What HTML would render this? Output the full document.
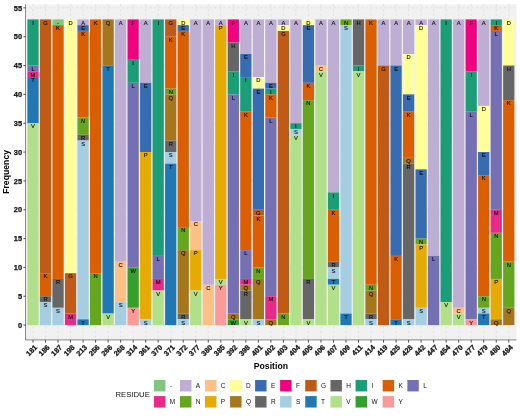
<!DOCTYPE html>
<html><head><meta charset="utf-8"><title>Residue frequency by position</title>
<style>html,body{margin:0;padding:0;background:#fff;}svg{display:block;will-change:transform;}text{font-family:"Liberation Sans",sans-serif;}</style>
</head><body>
<svg width="520" height="416" viewBox="0 0 520 416">
<rect x="0" y="0" width="520" height="416" fill="#ffffff"/>
<rect x="25.5" y="4.4" width="490.9" height="335.5" fill="#f1f1f1"/>
<g stroke="#dbdbdb" stroke-width="0.7" stroke-dasharray="2.2,2.4" fill="none">
<line x1="25.5" x2="516.4" y1="325.10" y2="325.10"/>
<line x1="25.5" x2="516.4" y1="296.26" y2="296.26"/>
<line x1="25.5" x2="516.4" y1="267.42" y2="267.42"/>
<line x1="25.5" x2="516.4" y1="238.58" y2="238.58"/>
<line x1="25.5" x2="516.4" y1="209.74" y2="209.74"/>
<line x1="25.5" x2="516.4" y1="180.90" y2="180.90"/>
<line x1="25.5" x2="516.4" y1="152.06" y2="152.06"/>
<line x1="25.5" x2="516.4" y1="123.22" y2="123.22"/>
<line x1="25.5" x2="516.4" y1="94.38" y2="94.38"/>
<line x1="25.5" x2="516.4" y1="65.54" y2="65.54"/>
<line x1="25.5" x2="516.4" y1="36.70" y2="36.70"/>
<line x1="25.5" x2="516.4" y1="7.86" y2="7.86"/>
<line x1="33.00" x2="33.00" y1="4.4" y2="339.9"/>
<line x1="45.52" x2="45.52" y1="4.4" y2="339.9"/>
<line x1="58.04" x2="58.04" y1="4.4" y2="339.9"/>
<line x1="70.56" x2="70.56" y1="4.4" y2="339.9"/>
<line x1="83.08" x2="83.08" y1="4.4" y2="339.9"/>
<line x1="95.60" x2="95.60" y1="4.4" y2="339.9"/>
<line x1="108.12" x2="108.12" y1="4.4" y2="339.9"/>
<line x1="120.64" x2="120.64" y1="4.4" y2="339.9"/>
<line x1="133.16" x2="133.16" y1="4.4" y2="339.9"/>
<line x1="145.68" x2="145.68" y1="4.4" y2="339.9"/>
<line x1="158.20" x2="158.20" y1="4.4" y2="339.9"/>
<line x1="170.72" x2="170.72" y1="4.4" y2="339.9"/>
<line x1="183.24" x2="183.24" y1="4.4" y2="339.9"/>
<line x1="195.76" x2="195.76" y1="4.4" y2="339.9"/>
<line x1="208.28" x2="208.28" y1="4.4" y2="339.9"/>
<line x1="220.80" x2="220.80" y1="4.4" y2="339.9"/>
<line x1="233.32" x2="233.32" y1="4.4" y2="339.9"/>
<line x1="245.84" x2="245.84" y1="4.4" y2="339.9"/>
<line x1="258.36" x2="258.36" y1="4.4" y2="339.9"/>
<line x1="270.88" x2="270.88" y1="4.4" y2="339.9"/>
<line x1="283.40" x2="283.40" y1="4.4" y2="339.9"/>
<line x1="295.92" x2="295.92" y1="4.4" y2="339.9"/>
<line x1="308.44" x2="308.44" y1="4.4" y2="339.9"/>
<line x1="320.96" x2="320.96" y1="4.4" y2="339.9"/>
<line x1="333.48" x2="333.48" y1="4.4" y2="339.9"/>
<line x1="346.00" x2="346.00" y1="4.4" y2="339.9"/>
<line x1="358.52" x2="358.52" y1="4.4" y2="339.9"/>
<line x1="371.04" x2="371.04" y1="4.4" y2="339.9"/>
<line x1="383.56" x2="383.56" y1="4.4" y2="339.9"/>
<line x1="396.08" x2="396.08" y1="4.4" y2="339.9"/>
<line x1="408.60" x2="408.60" y1="4.4" y2="339.9"/>
<line x1="421.12" x2="421.12" y1="4.4" y2="339.9"/>
<line x1="433.64" x2="433.64" y1="4.4" y2="339.9"/>
<line x1="446.16" x2="446.16" y1="4.4" y2="339.9"/>
<line x1="458.68" x2="458.68" y1="4.4" y2="339.9"/>
<line x1="471.20" x2="471.20" y1="4.4" y2="339.9"/>
<line x1="483.72" x2="483.72" y1="4.4" y2="339.9"/>
<line x1="496.24" x2="496.24" y1="4.4" y2="339.9"/>
<line x1="508.76" x2="508.76" y1="4.4" y2="339.9"/>
</g>
<g shape-rendering="auto">
<rect x="27.37" y="19.40" width="11.27" height="46.14" fill="#1b9e77"/>
<rect x="27.37" y="65.54" width="11.27" height="5.77" fill="#7570b3"/>
<rect x="27.37" y="71.31" width="11.27" height="5.77" fill="#e7298a"/>
<rect x="27.37" y="77.08" width="11.27" height="46.14" fill="#1f78b4"/>
<rect x="27.37" y="123.22" width="11.27" height="201.88" fill="#b2df8a"/>
<rect x="39.88" y="19.40" width="11.27" height="253.79" fill="#bf5b17"/>
<rect x="39.88" y="273.19" width="11.27" height="23.07" fill="#d95f02"/>
<rect x="39.88" y="296.26" width="11.27" height="5.77" fill="#666666"/>
<rect x="39.88" y="302.03" width="11.27" height="23.07" fill="#a6cee3"/>
<rect x="52.41" y="19.40" width="11.27" height="5.77" fill="#7fc97f"/>
<rect x="52.41" y="25.16" width="11.27" height="253.79" fill="#d95f02"/>
<rect x="52.41" y="278.96" width="11.27" height="28.84" fill="#666666"/>
<rect x="52.41" y="307.80" width="11.27" height="17.30" fill="#a6cee3"/>
<rect x="64.92" y="19.40" width="11.27" height="253.79" fill="#ffff99"/>
<rect x="64.92" y="273.19" width="11.27" height="40.38" fill="#bf5b17"/>
<rect x="64.92" y="313.56" width="11.27" height="11.54" fill="#e7298a"/>
<rect x="77.44" y="19.40" width="11.27" height="5.77" fill="#beaed4"/>
<rect x="77.44" y="25.16" width="11.27" height="5.77" fill="#386cb0"/>
<rect x="77.44" y="30.93" width="11.27" height="86.52" fill="#d95f02"/>
<rect x="77.44" y="117.45" width="11.27" height="17.30" fill="#66a61e"/>
<rect x="77.44" y="134.76" width="11.27" height="5.77" fill="#666666"/>
<rect x="77.44" y="140.52" width="11.27" height="178.81" fill="#a6cee3"/>
<rect x="77.44" y="319.33" width="11.27" height="5.77" fill="#1f78b4"/>
<rect x="89.96" y="19.40" width="11.27" height="253.79" fill="#d95f02"/>
<rect x="89.96" y="273.19" width="11.27" height="51.91" fill="#66a61e"/>
<rect x="102.48" y="19.40" width="11.27" height="46.14" fill="#a6761d"/>
<rect x="102.48" y="65.54" width="11.27" height="248.02" fill="#1f78b4"/>
<rect x="102.48" y="313.56" width="11.27" height="11.54" fill="#b2df8a"/>
<rect x="115.00" y="19.40" width="11.27" height="242.26" fill="#beaed4"/>
<rect x="115.00" y="261.65" width="11.27" height="40.38" fill="#fdc086"/>
<rect x="115.00" y="302.03" width="11.27" height="23.07" fill="#a6cee3"/>
<rect x="127.52" y="19.40" width="11.27" height="40.38" fill="#f0027f"/>
<rect x="127.52" y="59.77" width="11.27" height="23.07" fill="#1b9e77"/>
<rect x="127.52" y="82.84" width="11.27" height="184.58" fill="#7570b3"/>
<rect x="127.52" y="267.42" width="11.27" height="40.38" fill="#33a02c"/>
<rect x="127.52" y="307.80" width="11.27" height="17.30" fill="#fb9a99"/>
<rect x="140.05" y="19.40" width="11.27" height="63.45" fill="#beaed4"/>
<rect x="140.05" y="82.84" width="11.27" height="69.22" fill="#386cb0"/>
<rect x="140.05" y="152.06" width="11.27" height="167.27" fill="#e6ab02"/>
<rect x="140.05" y="319.33" width="11.27" height="5.77" fill="#a6cee3"/>
<rect x="152.56" y="19.40" width="11.27" height="236.49" fill="#1b9e77"/>
<rect x="152.56" y="255.88" width="11.27" height="23.07" fill="#7570b3"/>
<rect x="152.56" y="278.96" width="11.27" height="11.54" fill="#e7298a"/>
<rect x="152.56" y="290.49" width="11.27" height="34.61" fill="#b2df8a"/>
<rect x="165.09" y="19.40" width="11.27" height="17.30" fill="#bf5b17"/>
<rect x="165.09" y="36.70" width="11.27" height="51.91" fill="#d95f02"/>
<rect x="165.09" y="88.61" width="11.27" height="5.77" fill="#66a61e"/>
<rect x="165.09" y="94.38" width="11.27" height="46.14" fill="#a6761d"/>
<rect x="165.09" y="140.52" width="11.27" height="11.54" fill="#666666"/>
<rect x="165.09" y="152.06" width="11.27" height="11.54" fill="#a6cee3"/>
<rect x="165.09" y="163.60" width="11.27" height="161.50" fill="#1f78b4"/>
<rect x="177.61" y="19.40" width="11.27" height="5.77" fill="#ffff99"/>
<rect x="177.61" y="25.16" width="11.27" height="5.77" fill="#386cb0"/>
<rect x="177.61" y="30.93" width="11.27" height="196.11" fill="#d95f02"/>
<rect x="177.61" y="227.04" width="11.27" height="23.07" fill="#66a61e"/>
<rect x="177.61" y="250.12" width="11.27" height="63.45" fill="#a6761d"/>
<rect x="177.61" y="313.56" width="11.27" height="5.77" fill="#666666"/>
<rect x="177.61" y="319.33" width="11.27" height="5.77" fill="#a6cee3"/>
<rect x="190.12" y="19.40" width="11.27" height="201.88" fill="#beaed4"/>
<rect x="190.12" y="221.28" width="11.27" height="28.84" fill="#fdc086"/>
<rect x="190.12" y="250.12" width="11.27" height="40.38" fill="#e6ab02"/>
<rect x="190.12" y="290.49" width="11.27" height="34.61" fill="#b2df8a"/>
<rect x="202.65" y="19.40" width="11.27" height="265.33" fill="#beaed4"/>
<rect x="202.65" y="284.72" width="11.27" height="40.38" fill="#fdc086"/>
<rect x="215.16" y="19.40" width="11.27" height="5.77" fill="#beaed4"/>
<rect x="215.16" y="25.16" width="11.27" height="253.79" fill="#e6ab02"/>
<rect x="215.16" y="278.96" width="11.27" height="5.77" fill="#b2df8a"/>
<rect x="215.16" y="284.72" width="11.27" height="40.38" fill="#fb9a99"/>
<rect x="227.69" y="19.40" width="11.27" height="23.07" fill="#f0027f"/>
<rect x="227.69" y="42.47" width="11.27" height="28.84" fill="#666666"/>
<rect x="227.69" y="71.31" width="11.27" height="23.07" fill="#1b9e77"/>
<rect x="227.69" y="94.38" width="11.27" height="219.18" fill="#7570b3"/>
<rect x="227.69" y="313.56" width="11.27" height="5.77" fill="#a6761d"/>
<rect x="227.69" y="319.33" width="11.27" height="5.77" fill="#33a02c"/>
<rect x="240.21" y="19.40" width="11.27" height="34.61" fill="#beaed4"/>
<rect x="240.21" y="54.00" width="11.27" height="23.07" fill="#386cb0"/>
<rect x="240.21" y="77.08" width="11.27" height="34.61" fill="#1b9e77"/>
<rect x="240.21" y="111.68" width="11.27" height="138.43" fill="#d95f02"/>
<rect x="240.21" y="250.12" width="11.27" height="28.84" fill="#7570b3"/>
<rect x="240.21" y="278.96" width="11.27" height="5.77" fill="#e7298a"/>
<rect x="240.21" y="284.72" width="11.27" height="5.77" fill="#a6761d"/>
<rect x="240.21" y="290.49" width="11.27" height="28.84" fill="#666666"/>
<rect x="240.21" y="319.33" width="11.27" height="5.77" fill="#b2df8a"/>
<rect x="252.73" y="19.40" width="11.27" height="57.68" fill="#beaed4"/>
<rect x="252.73" y="77.08" width="11.27" height="11.54" fill="#ffff99"/>
<rect x="252.73" y="88.61" width="11.27" height="121.13" fill="#386cb0"/>
<rect x="252.73" y="209.74" width="11.27" height="5.77" fill="#bf5b17"/>
<rect x="252.73" y="215.51" width="11.27" height="51.91" fill="#d95f02"/>
<rect x="252.73" y="267.42" width="11.27" height="11.54" fill="#66a61e"/>
<rect x="252.73" y="278.96" width="11.27" height="40.38" fill="#a6761d"/>
<rect x="252.73" y="319.33" width="11.27" height="5.77" fill="#a6cee3"/>
<rect x="265.25" y="19.40" width="11.27" height="63.45" fill="#beaed4"/>
<rect x="265.25" y="82.84" width="11.27" height="5.77" fill="#386cb0"/>
<rect x="265.25" y="88.61" width="11.27" height="5.77" fill="#1b9e77"/>
<rect x="265.25" y="94.38" width="11.27" height="23.07" fill="#d95f02"/>
<rect x="265.25" y="117.45" width="11.27" height="178.81" fill="#7570b3"/>
<rect x="265.25" y="296.26" width="11.27" height="23.07" fill="#e7298a"/>
<rect x="265.25" y="319.33" width="11.27" height="5.77" fill="#a6761d"/>
<rect x="277.76" y="19.40" width="11.27" height="5.77" fill="#beaed4"/>
<rect x="277.76" y="25.16" width="11.27" height="5.77" fill="#ffff99"/>
<rect x="277.76" y="30.93" width="11.27" height="282.63" fill="#bf5b17"/>
<rect x="277.76" y="313.56" width="11.27" height="11.54" fill="#66a61e"/>
<rect x="290.29" y="19.40" width="11.27" height="103.82" fill="#beaed4"/>
<rect x="290.29" y="123.22" width="11.27" height="5.77" fill="#1b9e77"/>
<rect x="290.29" y="128.99" width="11.27" height="5.77" fill="#a6cee3"/>
<rect x="290.29" y="134.76" width="11.27" height="190.34" fill="#b2df8a"/>
<rect x="302.81" y="19.40" width="11.27" height="5.77" fill="#ffff99"/>
<rect x="302.81" y="25.16" width="11.27" height="57.68" fill="#386cb0"/>
<rect x="302.81" y="82.84" width="11.27" height="17.30" fill="#d95f02"/>
<rect x="302.81" y="100.15" width="11.27" height="178.81" fill="#66a61e"/>
<rect x="302.81" y="278.96" width="11.27" height="40.38" fill="#666666"/>
<rect x="302.81" y="319.33" width="11.27" height="5.77" fill="#b2df8a"/>
<rect x="315.32" y="19.40" width="11.27" height="46.14" fill="#beaed4"/>
<rect x="315.32" y="65.54" width="11.27" height="5.77" fill="#fdc086"/>
<rect x="315.32" y="71.31" width="11.27" height="253.79" fill="#b2df8a"/>
<rect x="327.85" y="19.40" width="11.27" height="173.04" fill="#beaed4"/>
<rect x="327.85" y="192.44" width="11.27" height="17.30" fill="#1b9e77"/>
<rect x="327.85" y="209.74" width="11.27" height="51.91" fill="#d95f02"/>
<rect x="327.85" y="261.65" width="11.27" height="5.77" fill="#666666"/>
<rect x="327.85" y="267.42" width="11.27" height="11.54" fill="#a6cee3"/>
<rect x="327.85" y="278.96" width="11.27" height="5.77" fill="#1f78b4"/>
<rect x="327.85" y="284.72" width="11.27" height="40.38" fill="#b2df8a"/>
<rect x="340.37" y="19.40" width="11.27" height="5.77" fill="#66a61e"/>
<rect x="340.37" y="25.16" width="11.27" height="288.40" fill="#a6cee3"/>
<rect x="340.37" y="313.56" width="11.27" height="11.54" fill="#1f78b4"/>
<rect x="352.88" y="19.40" width="11.27" height="46.14" fill="#666666"/>
<rect x="352.88" y="65.54" width="11.27" height="5.77" fill="#1b9e77"/>
<rect x="352.88" y="71.31" width="11.27" height="253.79" fill="#b2df8a"/>
<rect x="365.40" y="19.40" width="11.27" height="265.33" fill="#d95f02"/>
<rect x="365.40" y="284.72" width="11.27" height="5.77" fill="#66a61e"/>
<rect x="365.40" y="290.49" width="11.27" height="23.07" fill="#a6761d"/>
<rect x="365.40" y="313.56" width="11.27" height="5.77" fill="#666666"/>
<rect x="365.40" y="319.33" width="11.27" height="5.77" fill="#a6cee3"/>
<rect x="377.93" y="19.40" width="11.27" height="46.14" fill="#beaed4"/>
<rect x="377.93" y="65.54" width="11.27" height="259.56" fill="#bf5b17"/>
<rect x="390.44" y="19.40" width="11.27" height="46.14" fill="#beaed4"/>
<rect x="390.44" y="65.54" width="11.27" height="190.34" fill="#386cb0"/>
<rect x="390.44" y="255.88" width="11.27" height="63.45" fill="#d95f02"/>
<rect x="390.44" y="319.33" width="11.27" height="5.77" fill="#1f78b4"/>
<rect x="402.96" y="19.40" width="11.27" height="34.61" fill="#beaed4"/>
<rect x="402.96" y="54.00" width="11.27" height="40.38" fill="#ffff99"/>
<rect x="402.96" y="94.38" width="11.27" height="17.30" fill="#386cb0"/>
<rect x="402.96" y="111.68" width="11.27" height="46.14" fill="#d95f02"/>
<rect x="402.96" y="157.83" width="11.27" height="5.77" fill="#a6761d"/>
<rect x="402.96" y="163.60" width="11.27" height="155.74" fill="#666666"/>
<rect x="402.96" y="319.33" width="11.27" height="5.77" fill="#a6cee3"/>
<rect x="415.49" y="19.40" width="11.27" height="5.77" fill="#beaed4"/>
<rect x="415.49" y="25.16" width="11.27" height="144.20" fill="#ffff99"/>
<rect x="415.49" y="169.36" width="11.27" height="69.22" fill="#386cb0"/>
<rect x="415.49" y="238.58" width="11.27" height="5.77" fill="#66a61e"/>
<rect x="415.49" y="244.35" width="11.27" height="63.45" fill="#e6ab02"/>
<rect x="415.49" y="307.80" width="11.27" height="17.30" fill="#a6cee3"/>
<rect x="428.00" y="19.40" width="11.27" height="236.49" fill="#beaed4"/>
<rect x="428.00" y="255.88" width="11.27" height="69.22" fill="#7570b3"/>
<rect x="440.52" y="19.40" width="11.27" height="282.63" fill="#1b9e77"/>
<rect x="440.52" y="302.03" width="11.27" height="23.07" fill="#b2df8a"/>
<rect x="453.05" y="19.40" width="11.27" height="288.40" fill="#beaed4"/>
<rect x="453.05" y="307.80" width="11.27" height="5.77" fill="#fdc086"/>
<rect x="453.05" y="313.56" width="11.27" height="11.54" fill="#b2df8a"/>
<rect x="465.56" y="19.40" width="11.27" height="51.91" fill="#f0027f"/>
<rect x="465.56" y="71.31" width="11.27" height="40.38" fill="#1b9e77"/>
<rect x="465.56" y="111.68" width="11.27" height="207.65" fill="#7570b3"/>
<rect x="465.56" y="319.33" width="11.27" height="5.77" fill="#fb9a99"/>
<rect x="478.08" y="19.40" width="11.27" height="86.52" fill="#beaed4"/>
<rect x="478.08" y="105.92" width="11.27" height="46.14" fill="#ffff99"/>
<rect x="478.08" y="152.06" width="11.27" height="23.07" fill="#386cb0"/>
<rect x="478.08" y="175.13" width="11.27" height="121.13" fill="#d95f02"/>
<rect x="478.08" y="296.26" width="11.27" height="11.54" fill="#66a61e"/>
<rect x="478.08" y="307.80" width="11.27" height="5.77" fill="#a6cee3"/>
<rect x="478.08" y="313.56" width="11.27" height="11.54" fill="#1f78b4"/>
<rect x="490.61" y="19.40" width="11.27" height="5.77" fill="#1b9e77"/>
<rect x="490.61" y="25.16" width="11.27" height="5.77" fill="#d95f02"/>
<rect x="490.61" y="30.93" width="11.27" height="178.81" fill="#7570b3"/>
<rect x="490.61" y="209.74" width="11.27" height="23.07" fill="#e7298a"/>
<rect x="490.61" y="232.81" width="11.27" height="46.14" fill="#66a61e"/>
<rect x="490.61" y="278.96" width="11.27" height="40.38" fill="#e6ab02"/>
<rect x="490.61" y="319.33" width="11.27" height="5.77" fill="#a6761d"/>
<rect x="503.12" y="19.40" width="11.27" height="46.14" fill="#ffff99"/>
<rect x="503.12" y="65.54" width="11.27" height="34.61" fill="#666666"/>
<rect x="503.12" y="100.15" width="11.27" height="161.50" fill="#d95f02"/>
<rect x="503.12" y="261.65" width="11.27" height="46.14" fill="#66a61e"/>
<rect x="503.12" y="307.80" width="11.27" height="17.30" fill="#a6761d"/>
</g>
<g font-size="5.8" text-anchor="middle" fill="#0d0d0d" stroke="#0d0d0d" stroke-width="0.12">
<text x="33.00" y="24.60">I</text>
<text x="33.00" y="70.74">L</text>
<text x="33.00" y="76.51">M</text>
<text x="33.00" y="82.28">T</text>
<text x="33.00" y="128.42">V</text>
<text x="45.52" y="24.60">G</text>
<text x="45.52" y="278.39">K</text>
<text x="45.52" y="301.46">R</text>
<text x="45.52" y="307.23">S</text>
<text x="58.04" y="24.60">-</text>
<text x="58.04" y="30.36">K</text>
<text x="58.04" y="284.16">R</text>
<text x="58.04" y="313.00">S</text>
<text x="70.56" y="24.60">D</text>
<text x="70.56" y="278.39">G</text>
<text x="70.56" y="318.76">M</text>
<text x="83.08" y="24.60">A</text>
<text x="83.08" y="30.36">E</text>
<text x="83.08" y="36.13">K</text>
<text x="83.08" y="122.65">N</text>
<text x="83.08" y="139.96">R</text>
<text x="83.08" y="145.72">S</text>
<text x="83.08" y="324.53">T</text>
<text x="95.60" y="24.60">K</text>
<text x="95.60" y="278.39">N</text>
<text x="108.12" y="24.60">Q</text>
<text x="108.12" y="70.74">T</text>
<text x="108.12" y="318.76">V</text>
<text x="120.64" y="24.60">A</text>
<text x="120.64" y="266.85">C</text>
<text x="120.64" y="307.23">S</text>
<text x="133.16" y="24.60">F</text>
<text x="133.16" y="64.97">I</text>
<text x="133.16" y="88.04">L</text>
<text x="133.16" y="272.62">W</text>
<text x="133.16" y="313.00">Y</text>
<text x="145.68" y="24.60">A</text>
<text x="145.68" y="88.04">E</text>
<text x="145.68" y="157.26">P</text>
<text x="145.68" y="324.53">S</text>
<text x="158.20" y="24.60">I</text>
<text x="158.20" y="261.08">L</text>
<text x="158.20" y="284.16">M</text>
<text x="158.20" y="295.69">V</text>
<text x="170.72" y="24.60">G</text>
<text x="170.72" y="41.90">K</text>
<text x="170.72" y="93.81">N</text>
<text x="170.72" y="99.58">Q</text>
<text x="170.72" y="145.72">R</text>
<text x="170.72" y="157.26">S</text>
<text x="170.72" y="168.80">T</text>
<text x="183.24" y="24.60">D</text>
<text x="183.24" y="30.36">E</text>
<text x="183.24" y="36.13">K</text>
<text x="183.24" y="232.24">N</text>
<text x="183.24" y="255.32">Q</text>
<text x="183.24" y="318.76">R</text>
<text x="183.24" y="324.53">S</text>
<text x="195.76" y="24.60">A</text>
<text x="195.76" y="226.48">C</text>
<text x="195.76" y="255.32">P</text>
<text x="195.76" y="295.69">V</text>
<text x="208.28" y="24.60">A</text>
<text x="208.28" y="289.92">C</text>
<text x="220.80" y="24.60">A</text>
<text x="220.80" y="30.36">P</text>
<text x="220.80" y="284.16">V</text>
<text x="220.80" y="289.92">Y</text>
<text x="233.32" y="24.60">F</text>
<text x="233.32" y="47.67">H</text>
<text x="233.32" y="76.51">I</text>
<text x="233.32" y="99.58">L</text>
<text x="233.32" y="318.76">Q</text>
<text x="233.32" y="324.53">W</text>
<text x="245.84" y="24.60">A</text>
<text x="245.84" y="59.20">E</text>
<text x="245.84" y="82.28">I</text>
<text x="245.84" y="116.88">K</text>
<text x="245.84" y="255.32">L</text>
<text x="245.84" y="284.16">M</text>
<text x="245.84" y="289.92">Q</text>
<text x="245.84" y="295.69">R</text>
<text x="245.84" y="324.53">V</text>
<text x="258.36" y="24.60">A</text>
<text x="258.36" y="82.28">D</text>
<text x="258.36" y="93.81">E</text>
<text x="258.36" y="214.94">G</text>
<text x="258.36" y="220.71">K</text>
<text x="258.36" y="272.62">N</text>
<text x="258.36" y="284.16">Q</text>
<text x="258.36" y="324.53">S</text>
<text x="270.88" y="24.60">A</text>
<text x="270.88" y="88.04">E</text>
<text x="270.88" y="93.81">I</text>
<text x="270.88" y="99.58">K</text>
<text x="270.88" y="122.65">L</text>
<text x="270.88" y="301.46">M</text>
<text x="270.88" y="324.53">Q</text>
<text x="283.40" y="24.60">A</text>
<text x="283.40" y="30.36">D</text>
<text x="283.40" y="36.13">G</text>
<text x="283.40" y="318.76">N</text>
<text x="295.92" y="24.60">A</text>
<text x="295.92" y="128.42">I</text>
<text x="295.92" y="134.19">S</text>
<text x="295.92" y="139.96">V</text>
<text x="308.44" y="24.60">D</text>
<text x="308.44" y="30.36">E</text>
<text x="308.44" y="88.04">K</text>
<text x="308.44" y="105.35">N</text>
<text x="308.44" y="284.16">R</text>
<text x="308.44" y="324.53">V</text>
<text x="320.96" y="24.60">A</text>
<text x="320.96" y="70.74">C</text>
<text x="320.96" y="76.51">V</text>
<text x="333.48" y="24.60">A</text>
<text x="333.48" y="197.64">I</text>
<text x="333.48" y="214.94">K</text>
<text x="333.48" y="266.85">R</text>
<text x="333.48" y="272.62">S</text>
<text x="333.48" y="284.16">T</text>
<text x="333.48" y="289.92">V</text>
<text x="346.00" y="24.60">N</text>
<text x="346.00" y="30.36">S</text>
<text x="346.00" y="318.76">T</text>
<text x="358.52" y="24.60">H</text>
<text x="358.52" y="70.74">I</text>
<text x="358.52" y="76.51">V</text>
<text x="371.04" y="24.60">K</text>
<text x="371.04" y="289.92">N</text>
<text x="371.04" y="295.69">Q</text>
<text x="371.04" y="318.76">R</text>
<text x="371.04" y="324.53">S</text>
<text x="383.56" y="24.60">A</text>
<text x="383.56" y="70.74">G</text>
<text x="396.08" y="24.60">A</text>
<text x="396.08" y="70.74">E</text>
<text x="396.08" y="261.08">K</text>
<text x="396.08" y="324.53">T</text>
<text x="408.60" y="24.60">A</text>
<text x="408.60" y="59.20">D</text>
<text x="408.60" y="99.58">E</text>
<text x="408.60" y="116.88">K</text>
<text x="408.60" y="163.03">Q</text>
<text x="408.60" y="168.80">R</text>
<text x="408.60" y="324.53">S</text>
<text x="421.12" y="24.60">A</text>
<text x="421.12" y="30.36">D</text>
<text x="421.12" y="174.56">E</text>
<text x="421.12" y="243.78">N</text>
<text x="421.12" y="249.55">P</text>
<text x="421.12" y="313.00">S</text>
<text x="433.64" y="24.60">A</text>
<text x="433.64" y="261.08">L</text>
<text x="446.16" y="24.60">I</text>
<text x="446.16" y="307.23">V</text>
<text x="458.68" y="24.60">A</text>
<text x="458.68" y="313.00">C</text>
<text x="458.68" y="318.76">V</text>
<text x="471.20" y="24.60">F</text>
<text x="471.20" y="76.51">I</text>
<text x="471.20" y="116.88">L</text>
<text x="471.20" y="324.53">Y</text>
<text x="483.72" y="24.60">A</text>
<text x="483.72" y="111.12">D</text>
<text x="483.72" y="157.26">E</text>
<text x="483.72" y="180.33">K</text>
<text x="483.72" y="301.46">N</text>
<text x="483.72" y="313.00">S</text>
<text x="483.72" y="318.76">T</text>
<text x="496.24" y="24.60">I</text>
<text x="496.24" y="30.36">K</text>
<text x="496.24" y="36.13">L</text>
<text x="496.24" y="214.94">M</text>
<text x="496.24" y="238.01">N</text>
<text x="496.24" y="284.16">P</text>
<text x="496.24" y="324.53">Q</text>
<text x="508.76" y="24.60">D</text>
<text x="508.76" y="70.74">H</text>
<text x="508.76" y="105.35">K</text>
<text x="508.76" y="266.85">N</text>
<text x="508.76" y="313.00">Q</text>
</g>
<g stroke="#5a5a5a" stroke-width="0.7" fill="none">
<line x1="25.5" x2="25.5" y1="4.4" y2="339.9"/>
<line x1="25.5" x2="516.4" y1="339.9" y2="339.9"/>
</g>
<g stroke="#333333" stroke-width="0.85" fill="none">
<line x1="23.4" x2="25.5" y1="325.10" y2="325.10"/>
<line x1="23.4" x2="25.5" y1="296.26" y2="296.26"/>
<line x1="23.4" x2="25.5" y1="267.42" y2="267.42"/>
<line x1="23.4" x2="25.5" y1="238.58" y2="238.58"/>
<line x1="23.4" x2="25.5" y1="209.74" y2="209.74"/>
<line x1="23.4" x2="25.5" y1="180.90" y2="180.90"/>
<line x1="23.4" x2="25.5" y1="152.06" y2="152.06"/>
<line x1="23.4" x2="25.5" y1="123.22" y2="123.22"/>
<line x1="23.4" x2="25.5" y1="94.38" y2="94.38"/>
<line x1="23.4" x2="25.5" y1="65.54" y2="65.54"/>
<line x1="23.4" x2="25.5" y1="36.70" y2="36.70"/>
<line x1="23.4" x2="25.5" y1="7.86" y2="7.86"/>
<line x1="33.00" x2="33.00" y1="339.9" y2="342.60"/>
<line x1="45.52" x2="45.52" y1="339.9" y2="342.60"/>
<line x1="58.04" x2="58.04" y1="339.9" y2="342.60"/>
<line x1="70.56" x2="70.56" y1="339.9" y2="342.60"/>
<line x1="83.08" x2="83.08" y1="339.9" y2="342.60"/>
<line x1="95.60" x2="95.60" y1="339.9" y2="342.60"/>
<line x1="108.12" x2="108.12" y1="339.9" y2="342.60"/>
<line x1="120.64" x2="120.64" y1="339.9" y2="342.60"/>
<line x1="133.16" x2="133.16" y1="339.9" y2="342.60"/>
<line x1="145.68" x2="145.68" y1="339.9" y2="342.60"/>
<line x1="158.20" x2="158.20" y1="339.9" y2="342.60"/>
<line x1="170.72" x2="170.72" y1="339.9" y2="342.60"/>
<line x1="183.24" x2="183.24" y1="339.9" y2="342.60"/>
<line x1="195.76" x2="195.76" y1="339.9" y2="342.60"/>
<line x1="208.28" x2="208.28" y1="339.9" y2="342.60"/>
<line x1="220.80" x2="220.80" y1="339.9" y2="342.60"/>
<line x1="233.32" x2="233.32" y1="339.9" y2="342.60"/>
<line x1="245.84" x2="245.84" y1="339.9" y2="342.60"/>
<line x1="258.36" x2="258.36" y1="339.9" y2="342.60"/>
<line x1="270.88" x2="270.88" y1="339.9" y2="342.60"/>
<line x1="283.40" x2="283.40" y1="339.9" y2="342.60"/>
<line x1="295.92" x2="295.92" y1="339.9" y2="342.60"/>
<line x1="308.44" x2="308.44" y1="339.9" y2="342.60"/>
<line x1="320.96" x2="320.96" y1="339.9" y2="342.60"/>
<line x1="333.48" x2="333.48" y1="339.9" y2="342.60"/>
<line x1="346.00" x2="346.00" y1="339.9" y2="342.60"/>
<line x1="358.52" x2="358.52" y1="339.9" y2="342.60"/>
<line x1="371.04" x2="371.04" y1="339.9" y2="342.60"/>
<line x1="383.56" x2="383.56" y1="339.9" y2="342.60"/>
<line x1="396.08" x2="396.08" y1="339.9" y2="342.60"/>
<line x1="408.60" x2="408.60" y1="339.9" y2="342.60"/>
<line x1="421.12" x2="421.12" y1="339.9" y2="342.60"/>
<line x1="433.64" x2="433.64" y1="339.9" y2="342.60"/>
<line x1="446.16" x2="446.16" y1="339.9" y2="342.60"/>
<line x1="458.68" x2="458.68" y1="339.9" y2="342.60"/>
<line x1="471.20" x2="471.20" y1="339.9" y2="342.60"/>
<line x1="483.72" x2="483.72" y1="339.9" y2="342.60"/>
<line x1="496.24" x2="496.24" y1="339.9" y2="342.60"/>
<line x1="508.76" x2="508.76" y1="339.9" y2="342.60"/>
</g>
<g font-size="7.4" font-weight="bold" text-anchor="end" fill="#111111" stroke="#111111" stroke-width="0.25">
<text x="22.1" y="327.80">0</text>
<text x="22.1" y="298.96">5</text>
<text x="22.1" y="270.12">10</text>
<text x="22.1" y="241.28">15</text>
<text x="22.1" y="212.44">20</text>
<text x="22.1" y="183.60">25</text>
<text x="22.1" y="154.76">30</text>
<text x="22.1" y="125.92">35</text>
<text x="22.1" y="97.08">40</text>
<text x="22.1" y="68.24">45</text>
<text x="22.1" y="39.40">50</text>
<text x="22.1" y="10.56">55</text>
</g>
<g font-size="7.25" font-weight="bold" text-anchor="end" fill="#111111" stroke="#111111" stroke-width="0.25">
<text transform="translate(35.75,345.95) rotate(-45)" x="0" y="0" dy="2.65">181</text>
<text transform="translate(48.27,345.95) rotate(-45)" x="0" y="0" dy="2.65">186</text>
<text transform="translate(60.79,345.95) rotate(-45)" x="0" y="0" dy="2.65">187</text>
<text transform="translate(73.31,345.95) rotate(-45)" x="0" y="0" dy="2.65">198</text>
<text transform="translate(85.83,345.95) rotate(-45)" x="0" y="0" dy="2.65">213</text>
<text transform="translate(98.35,345.95) rotate(-45)" x="0" y="0" dy="2.65">256</text>
<text transform="translate(110.87,345.95) rotate(-45)" x="0" y="0" dy="2.65">266</text>
<text transform="translate(123.39,345.95) rotate(-45)" x="0" y="0" dy="2.65">268</text>
<text transform="translate(135.91,345.95) rotate(-45)" x="0" y="0" dy="2.65">314</text>
<text transform="translate(148.43,345.95) rotate(-45)" x="0" y="0" dy="2.65">361</text>
<text transform="translate(160.95,345.95) rotate(-45)" x="0" y="0" dy="2.65">370</text>
<text transform="translate(173.47,345.95) rotate(-45)" x="0" y="0" dy="2.65">371</text>
<text transform="translate(185.99,345.95) rotate(-45)" x="0" y="0" dy="2.65">372</text>
<text transform="translate(198.51,345.95) rotate(-45)" x="0" y="0" dy="2.65">377</text>
<text transform="translate(211.03,345.95) rotate(-45)" x="0" y="0" dy="2.65">380</text>
<text transform="translate(223.55,345.95) rotate(-45)" x="0" y="0" dy="2.65">385</text>
<text transform="translate(236.07,345.95) rotate(-45)" x="0" y="0" dy="2.65">392</text>
<text transform="translate(248.59,345.95) rotate(-45)" x="0" y="0" dy="2.65">398</text>
<text transform="translate(261.11,345.95) rotate(-45)" x="0" y="0" dy="2.65">401</text>
<text transform="translate(273.63,345.95) rotate(-45)" x="0" y="0" dy="2.65">402</text>
<text transform="translate(286.15,345.95) rotate(-45)" x="0" y="0" dy="2.65">403</text>
<text transform="translate(298.67,345.95) rotate(-45)" x="0" y="0" dy="2.65">404</text>
<text transform="translate(311.19,345.95) rotate(-45)" x="0" y="0" dy="2.65">405</text>
<text transform="translate(323.71,345.95) rotate(-45)" x="0" y="0" dy="2.65">406</text>
<text transform="translate(336.23,345.95) rotate(-45)" x="0" y="0" dy="2.65">407</text>
<text transform="translate(348.75,345.95) rotate(-45)" x="0" y="0" dy="2.65">409</text>
<text transform="translate(361.27,345.95) rotate(-45)" x="0" y="0" dy="2.65">411</text>
<text transform="translate(373.79,345.95) rotate(-45)" x="0" y="0" dy="2.65">414</text>
<text transform="translate(386.31,345.95) rotate(-45)" x="0" y="0" dy="2.65">419</text>
<text transform="translate(398.83,345.95) rotate(-45)" x="0" y="0" dy="2.65">425</text>
<text transform="translate(411.35,345.95) rotate(-45)" x="0" y="0" dy="2.65">428</text>
<text transform="translate(423.87,345.95) rotate(-45)" x="0" y="0" dy="2.65">442</text>
<text transform="translate(436.39,345.95) rotate(-45)" x="0" y="0" dy="2.65">447</text>
<text transform="translate(448.91,345.95) rotate(-45)" x="0" y="0" dy="2.65">454</text>
<text transform="translate(461.43,345.95) rotate(-45)" x="0" y="0" dy="2.65">470</text>
<text transform="translate(473.95,345.95) rotate(-45)" x="0" y="0" dy="2.65">477</text>
<text transform="translate(486.47,345.95) rotate(-45)" x="0" y="0" dy="2.65">479</text>
<text transform="translate(498.99,345.95) rotate(-45)" x="0" y="0" dy="2.65">480</text>
<text transform="translate(511.51,345.95) rotate(-45)" x="0" y="0" dy="2.65">484</text>
</g>
<text x="270.9" y="369.2" font-size="8.7" font-weight="bold" text-anchor="middle" fill="#000">Position</text>
<text transform="translate(8.5,171.9) rotate(-90)" font-size="8.7" font-weight="bold" text-anchor="middle" fill="#000">Frequency</text>
<text x="115.4" y="397.0" font-size="7.75" fill="#111">RESIDUE</text>
<rect x="153.80" y="379.8" width="11.8" height="11.8" fill="#f2f2f2"/>
<rect x="154.00" y="380.00" width="11.40" height="11.40" fill="#7fc97f"/>
<text x="169.80" y="388.05" font-size="6.5" fill="#111">-</text>
<rect x="179.80" y="379.8" width="11.8" height="11.8" fill="#f2f2f2"/>
<rect x="180.00" y="380.00" width="11.40" height="11.40" fill="#beaed4"/>
<text x="195.80" y="388.05" font-size="6.5" fill="#111">A</text>
<rect x="204.80" y="379.8" width="11.8" height="11.8" fill="#f2f2f2"/>
<rect x="205.00" y="380.00" width="11.40" height="11.40" fill="#fdc086"/>
<text x="220.80" y="388.05" font-size="6.5" fill="#111">C</text>
<rect x="229.90" y="379.8" width="11.8" height="11.8" fill="#f2f2f2"/>
<rect x="230.10" y="380.00" width="11.40" height="11.40" fill="#ffff99"/>
<text x="245.90" y="388.05" font-size="6.5" fill="#111">D</text>
<rect x="254.90" y="379.8" width="11.8" height="11.8" fill="#f2f2f2"/>
<rect x="255.10" y="380.00" width="11.40" height="11.40" fill="#386cb0"/>
<text x="270.90" y="388.05" font-size="6.5" fill="#111">E</text>
<rect x="279.90" y="379.8" width="11.8" height="11.8" fill="#f2f2f2"/>
<rect x="280.10" y="380.00" width="11.40" height="11.40" fill="#f0027f"/>
<text x="295.90" y="388.05" font-size="6.5" fill="#111">F</text>
<rect x="305.05" y="379.8" width="11.8" height="11.8" fill="#f2f2f2"/>
<rect x="305.25" y="380.00" width="11.40" height="11.40" fill="#bf5b17"/>
<text x="321.05" y="388.05" font-size="6.5" fill="#111">G</text>
<rect x="330.30" y="379.8" width="11.8" height="11.8" fill="#f2f2f2"/>
<rect x="330.50" y="380.00" width="11.40" height="11.40" fill="#666666"/>
<text x="346.30" y="388.05" font-size="6.5" fill="#111">H</text>
<rect x="355.40" y="379.8" width="11.8" height="11.8" fill="#f2f2f2"/>
<rect x="355.60" y="380.00" width="11.40" height="11.40" fill="#1b9e77"/>
<text x="371.40" y="388.05" font-size="6.5" fill="#111">I</text>
<rect x="382.50" y="379.8" width="11.8" height="11.8" fill="#f2f2f2"/>
<rect x="382.70" y="380.00" width="11.40" height="11.40" fill="#d95f02"/>
<text x="398.50" y="388.05" font-size="6.5" fill="#111">K</text>
<rect x="407.20" y="379.8" width="11.8" height="11.8" fill="#f2f2f2"/>
<rect x="407.40" y="380.00" width="11.40" height="11.40" fill="#7570b3"/>
<text x="423.20" y="388.05" font-size="6.5" fill="#111">L</text>
<rect x="153.80" y="395.9" width="11.8" height="11.8" fill="#f2f2f2"/>
<rect x="154.00" y="396.10" width="11.40" height="11.40" fill="#e7298a"/>
<text x="169.80" y="404.15" font-size="6.5" fill="#111">M</text>
<rect x="179.80" y="395.9" width="11.8" height="11.8" fill="#f2f2f2"/>
<rect x="180.00" y="396.10" width="11.40" height="11.40" fill="#66a61e"/>
<text x="195.80" y="404.15" font-size="6.5" fill="#111">N</text>
<rect x="204.80" y="395.9" width="11.8" height="11.8" fill="#f2f2f2"/>
<rect x="205.00" y="396.10" width="11.40" height="11.40" fill="#e6ab02"/>
<text x="220.80" y="404.15" font-size="6.5" fill="#111">P</text>
<rect x="229.90" y="395.9" width="11.8" height="11.8" fill="#f2f2f2"/>
<rect x="230.10" y="396.10" width="11.40" height="11.40" fill="#a6761d"/>
<text x="245.90" y="404.15" font-size="6.5" fill="#111">Q</text>
<rect x="254.90" y="395.9" width="11.8" height="11.8" fill="#f2f2f2"/>
<rect x="255.10" y="396.10" width="11.40" height="11.40" fill="#666666"/>
<text x="270.90" y="404.15" font-size="6.5" fill="#111">R</text>
<rect x="279.90" y="395.9" width="11.8" height="11.8" fill="#f2f2f2"/>
<rect x="280.10" y="396.10" width="11.40" height="11.40" fill="#a6cee3"/>
<text x="295.90" y="404.15" font-size="6.5" fill="#111">S</text>
<rect x="305.05" y="395.9" width="11.8" height="11.8" fill="#f2f2f2"/>
<rect x="305.25" y="396.10" width="11.40" height="11.40" fill="#1f78b4"/>
<text x="321.05" y="404.15" font-size="6.5" fill="#111">T</text>
<rect x="330.30" y="395.9" width="11.8" height="11.8" fill="#f2f2f2"/>
<rect x="330.50" y="396.10" width="11.40" height="11.40" fill="#b2df8a"/>
<text x="346.30" y="404.15" font-size="6.5" fill="#111">V</text>
<rect x="355.40" y="395.9" width="11.8" height="11.8" fill="#f2f2f2"/>
<rect x="355.60" y="396.10" width="11.40" height="11.40" fill="#33a02c"/>
<text x="371.40" y="404.15" font-size="6.5" fill="#111">W</text>
<rect x="382.50" y="395.9" width="11.8" height="11.8" fill="#f2f2f2"/>
<rect x="382.70" y="396.10" width="11.40" height="11.40" fill="#fb9a99"/>
<text x="398.50" y="404.15" font-size="6.5" fill="#111">Y</text>
</svg>
</body></html>
